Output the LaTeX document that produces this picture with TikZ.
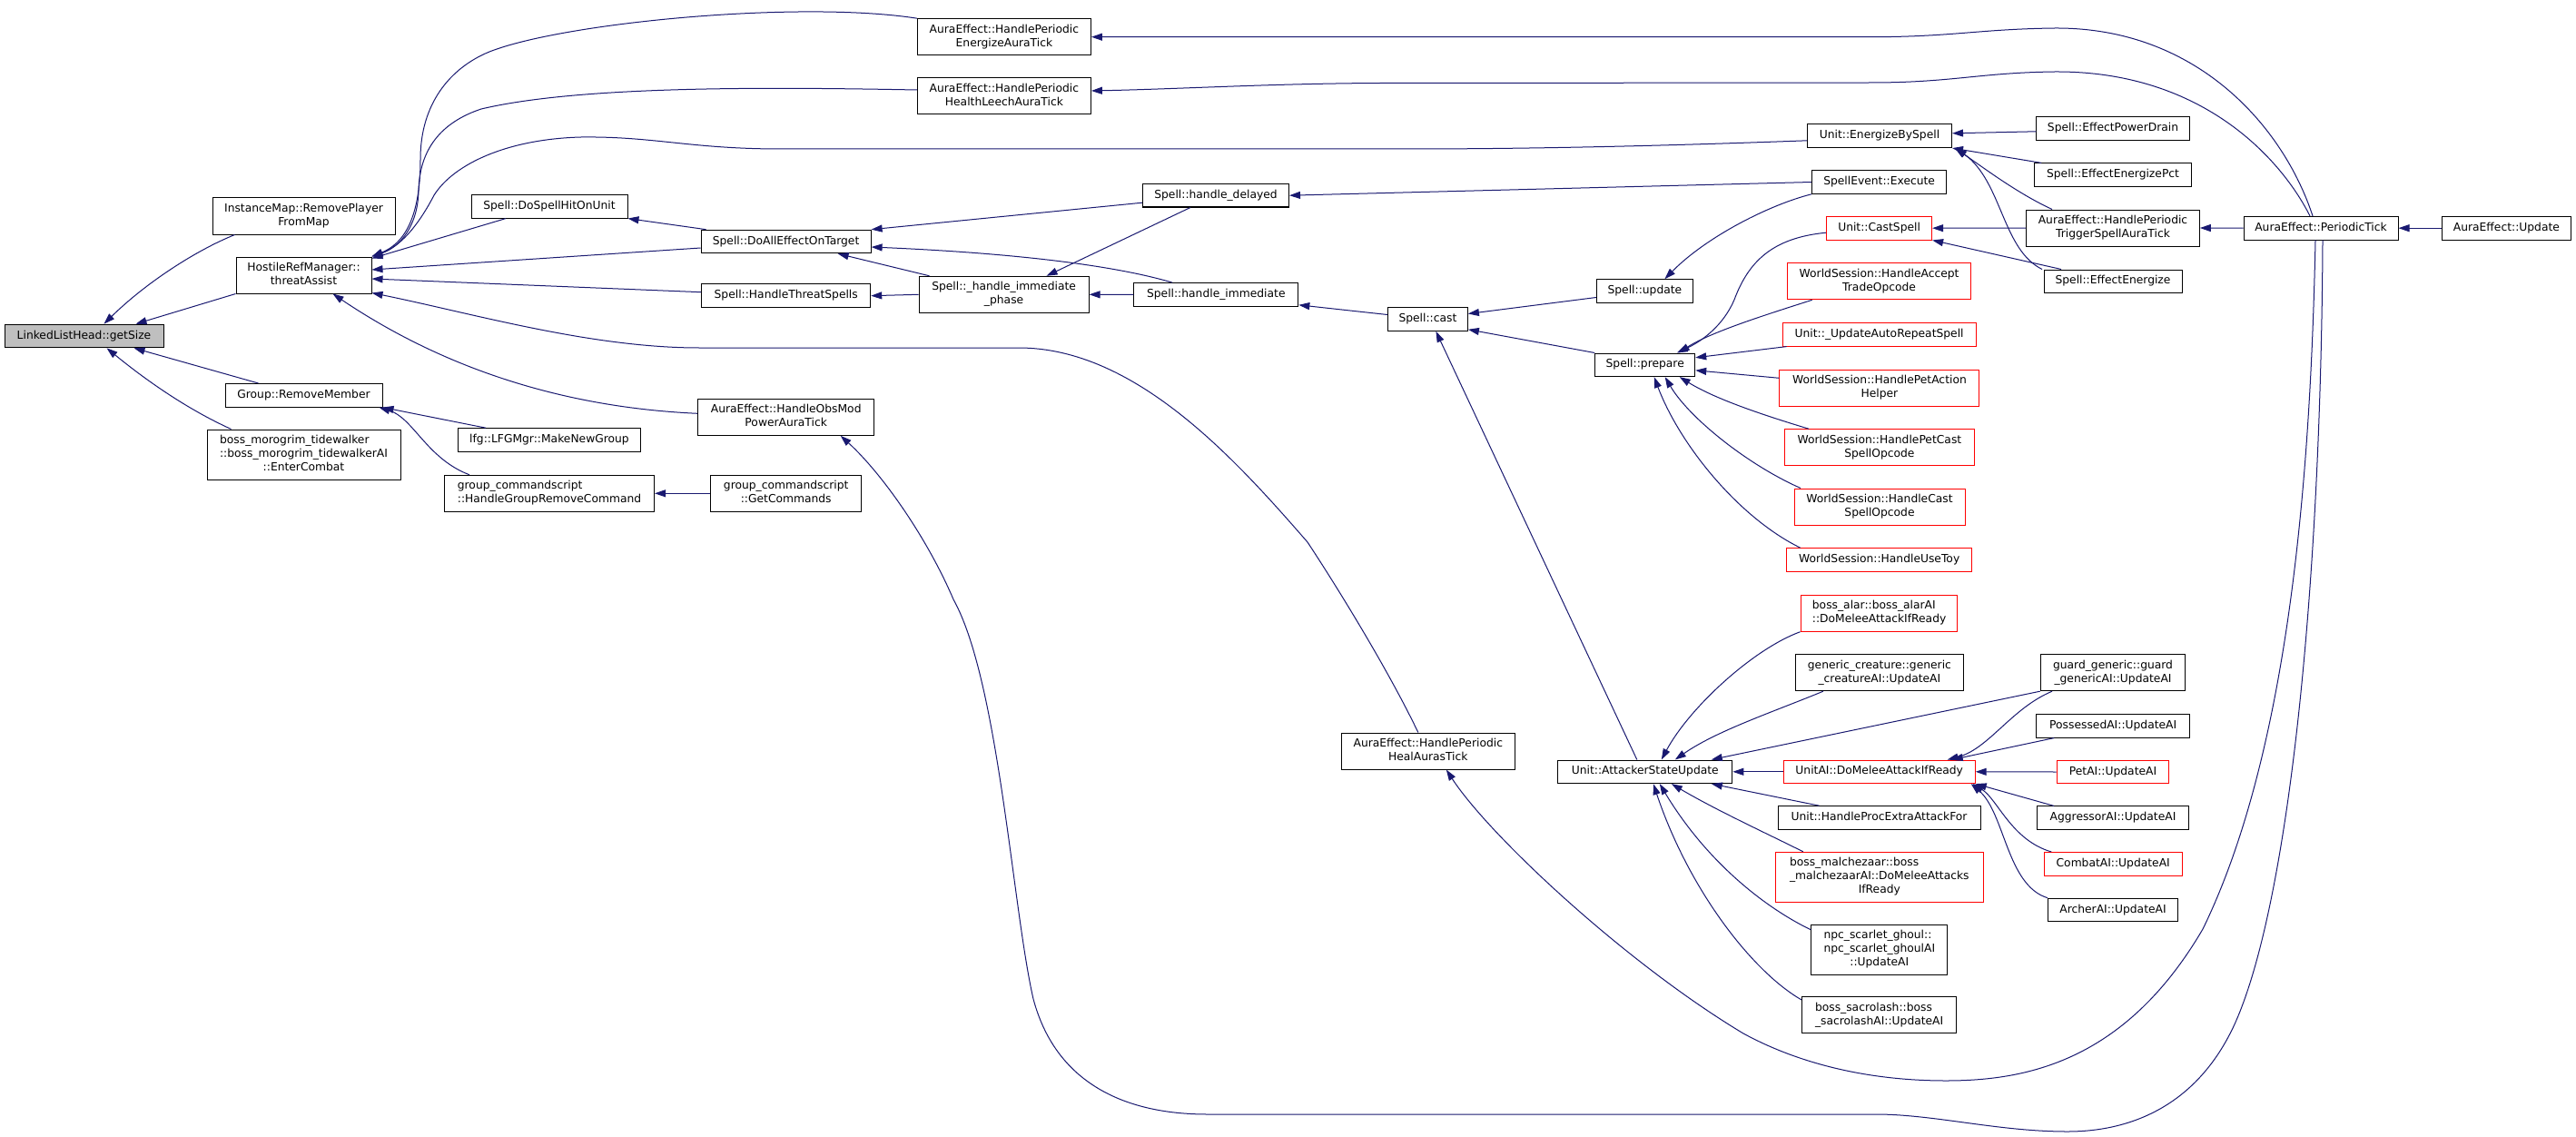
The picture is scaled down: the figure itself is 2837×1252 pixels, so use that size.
\documentclass[tikz,border=0pt]{standalone}
\usepackage{fontspec}
\newfontfamily\dvs{DejaVu Sans}
\usetikzlibrary{arrows.meta}
\definecolor{navy}{HTML}{191970}
\definecolor{grayroot}{HTML}{BFBFBF}
\newcommand{\nfont}{\dvs\fontsize{12.3}{15}\selectfont}
\newcommand{\nstrut}{\rule[-3.3pt]{0pt}{12.5pt}}
\newcommand{\twol}[2]{\begin{tabular}{@{}l@{}}#1\\\multicolumn{1}{@{}c@{}}{#2}\end{tabular}}
\newcommand{\threel}[3]{\begin{tabular}{@{}l@{}}#1\\#2\\\multicolumn{1}{@{}c@{}}{#3}\end{tabular}}
\tikzset{
  fn/.style={draw=black, line width=1pt, fill=white, inner sep=0pt, font=\nfont, text=black, execute at begin node=\nstrut},
  rn/.style={fn, draw=red},
  s1/.style={minimum height=25.6pt},
  s2/.style={minimum height=40pt},
  s3/.style={minimum height=55pt},
  arr/.style={draw=navy, line width=1pt, -{Triangle[length=12pt,width=8pt]}},
}
\begin{document}
\begin{tikzpicture}[x=1pt,y=-1pt]
\useasboundingbox (0,0) rectangle (2837,1252);
\fill[white] (0,0) rectangle (2837,1252);
% nodes
\node[fn,s1,minimum width=175pt,fill=grayroot] (gs) at (92.5,370) {LinkedListHead::getSize};
\node[fn,s2,minimum width=201pt] (im) at (334.5,238) {\twol{InstanceMap::RemovePlayer}{FromMap}};
\node[fn,s2,minimum width=149pt] (hr) at (334.5,303) {\twol{HostileRefManager::}{threatAssist}};
\node[fn,s1,minimum width=173pt] (grm) at (334.5,435.3) {Group::RemoveMember};
\node[fn,s3,minimum width=213pt] (bmt) at (334.5,500.5) {\threel{boss\_morogrim\_tidewalker}{::boss\_morogrim\_tidewalkerAI}{::EnterCombat}};
\node[fn,s1,minimum width=201pt] (lfg) at (605,484.5) {lfg::LFGMgr::MakeNewGroup};
\node[fn,s2,minimum width=231pt] (gcr) at (605,543.3) {\twol{group\_commandscript}{::HandleGroupRemoveCommand}};
\node[fn,s2,minimum width=166pt] (gcg) at (865.7,543.3) {\twol{group\_commandscript}{::GetCommands}};
\node[fn,s2,minimum width=194pt] (obs) at (865.7,459.3) {\twol{AuraEffect::HandleObsMod}{PowerAuraTick}};
\node[fn,s1,minimum width=172pt] (dsh) at (605,227.3) {Spell::DoSpellHitOnUnit};
\node[fn,s1,minimum width=187pt] (dae) at (865.6,266) {Spell::DoAllEffectOnTarget};
\node[fn,s1,minimum width=186pt] (hts) at (865.7,325.7) {Spell::HandleThreatSpells};
\node[fn,s2,minimum width=191pt] (pen) at (1105.9,40.7) {\twol{AuraEffect::HandlePeriodic}{EnergizeAuraTick}};
\node[fn,s2,minimum width=191pt] (phl) at (1105.9,106) {\twol{AuraEffect::HandlePeriodic}{HealthLeechAuraTick}};
\node[fn,s2,minimum width=187pt] (hip) at (1105.6,324.3) {\twol{Spell::\_handle\_immediate}{\_phase}};
\node[fn,s1,minimum width=161pt] (hd) at (1339,215.2) {Spell::handle\_delayed};
\node[fn,s1,minimum width=181pt] (hi) at (1339.3,324.5) {Spell::handle\_immediate};
\node[fn,s1,minimum width=88pt] (cast) at (1572.4,351.5) {Spell::cast};
\node[fn,s2,minimum width=191pt] (phh) at (1572.8,827) {\twol{AuraEffect::HandlePeriodic}{HealAurasTick}};
\node[fn,s1,minimum width=106pt] (upd) at (1811.4,320.5) {Spell::update};
\node[fn,s1,minimum width=110pt] (prep) at (1811.7,401.8) {Spell::prepare};
\node[fn,s1,minimum width=192pt] (asu) at (1811.8,849.8) {Unit::AttackerStateUpdate};
\node[fn,s1,minimum width=159pt] (ebs) at (2070,149.8) {Unit::EnergizeBySpell};
\node[fn,s1,minimum width=148pt] (exe) at (2069.6,200.5) {SpellEvent::Execute};
\node[rn,s1,minimum width=116pt] (csp) at (2069.6,251.2) {Unit::CastSpell};
\node[rn,s2,minimum width=202pt] (acc) at (2069.6,309.8) {\twol{WorldSession::HandleAccept}{TradeOpcode}};
\node[rn,s1,minimum width=213pt] (uars) at (2069.6,368.3) {Unit::\_UpdateAutoRepeatSpell};
\node[rn,s2,minimum width=220pt] (pah) at (2069.9,427.3) {\twol{WorldSession::HandlePetAction}{Helper}};
\node[rn,s2,minimum width=209pt] (pcs) at (2069.9,492.7) {\twol{WorldSession::HandlePetCast}{SpellOpcode}};
\node[rn,s2,minimum width=188pt] (hcs) at (2070,558) {\twol{WorldSession::HandleCast}{SpellOpcode}};
\node[rn,s1,minimum width=204pt] (toy) at (2069.7,616.5) {WorldSession::HandleUseToy};
\node[rn,s2,minimum width=172pt] (alar) at (2069.6,675.2) {\twol{boss\_alar::boss\_alarAI}{::DoMeleeAttackIfReady}};
\node[fn,s2,minimum width=185pt] (gcu) at (2069.9,740.7) {\twol{generic\_creature::generic}{\_creatureAI::UpdateAI}};
\node[rn,s1,minimum width=211pt] (uai) at (2069.7,849.8) {UnitAI::DoMeleeAttackIfReady};
\node[fn,s1,minimum width=223pt] (hpe) at (2069.5,900.5) {Unit::HandleProcExtraAttackFor};
\node[rn,s3,minimum width=229pt] (mal) at (2069.8,965.8) {\threel{boss\_malchezaar::boss}{\_malchezaarAI::DoMeleeAttacks}{IfReady}};
\node[fn,s3,minimum width=150pt] (npc) at (2069.8,1045.8) {\threel{npc\_scarlet\_ghoul::}{npc\_scarlet\_ghoulAI}{::UpdateAI}};
\node[fn,s2,minimum width=170pt] (sac) at (2069.6,1117.5) {\twol{boss\_sacrolash::boss}{\_sacrolashAI::UpdateAI}};
\node[fn,s1,minimum width=168.5pt] (epd) at (2327,141.8) {Spell::EffectPowerDrain};
\node[fn,s1,minimum width=172.6pt] (epc) at (2327,192.7) {Spell::EffectEnergizePct};
\node[fn,s2,minimum width=190.6pt] (tsa) at (2327,251) {\twol{AuraEffect::HandlePeriodic}{TriggerSpellAuraTick}};
\node[fn,s1,minimum width=152pt] (een) at (2327,309.8) {Spell::EffectEnergize};
\node[fn,s1,minimum width=170pt] (pt) at (2556,251.2) {AuraEffect::PeriodicTick};
\node[fn,s1,minimum width=142pt] (aeu) at (2760.4,251.2) {AuraEffect::Update};
\node[fn,s2,minimum width=159.5pt] (ggu) at (2327,740.7) {\twol{guard\_generic::guard}{\_genericAI::UpdateAI}};
\node[fn,s1,minimum width=169.5pt] (pos) at (2327.2,799.3) {PossessedAI::UpdateAI};
\node[rn,s1,minimum width=123.6pt] (pet) at (2327,850) {PetAI::UpdateAI};
\node[fn,s1,minimum width=167.4pt] (agg) at (2327,900.7) {AggressorAI::UpdateAI};
\node[rn,s1,minimum width=152pt] (cmb) at (2327.2,951.3) {CombatAI::UpdateAI};
\node[fn,s1,minimum width=143pt] (arc) at (2327,1002) {ArcherAI::UpdateAI};
% edges into getSize
\draw[arr] ([xshift=-76pt]im.south) .. controls (215,276) and (160,312) .. ([xshift=22pt]gs.north);
\draw[arr] (hr.south west) -- ([xshift=57pt]gs.north);
\draw[arr] ([xshift=-50pt]grm.north) -- ([xshift=55pt]gs.south);
\draw[arr] ([xshift=-80pt]bmt.north) .. controls (205,450) and (160,418) .. ([xshift=25pt]gs.south);
% edges into HostileRefManager
\draw[arr] (pen.north west) .. controls (880,0) and (620,25) .. (539,57) .. controls (495,75) and (463,115) .. (463,175) .. controls (463,240) and (445,268) .. (hr.north east);
\draw[arr] ([yshift=7pt]phl.west) .. controls (850,96) and (640,94) .. (530,120) .. controls (485,135) and (462,165) .. (461,210) .. controls (460,250) and (440,272) .. (hr.north east);
\draw[arr] ([yshift=-5pt]ebs.west) .. controls (1850,160) and (1700,164) .. (1550,164) -- (860,164) .. controls (760,164) and (720,150) .. (640,151) .. controls (560,153) and (500,180) .. (478,215) .. controls (465,240) and (445,270) .. (hr.north east);
\draw[arr] ([xshift=-48pt]dsh.south) -- ([yshift=-2pt]hr.north east);
\draw[arr] ([yshift=-7pt]dae.west) -- ([yshift=6pt]hr.east);
\draw[arr] ([yshift=4pt]hts.west) -- ([yshift=-4pt]hr.east);
\draw[arr] ([xshift=-11pt]phh.north) .. controls (1530,740) and (1475,650) .. (1440,597) .. controls (1360,505) and (1250,383) .. (1122,383) -- (770,383) .. controls (650,383) and (520,345) .. ([yshift=1pt]hr.south east);
\draw[arr] ([yshift=4pt]obs.west) .. controls (650,450) and (510,420) .. ([xshift=32pt]hr.south);
% group
\draw[arr] ([xshift=-70pt]lfg.north) -- (grm.south east);
\draw[arr] ([xshift=-88pt]gcr.north) .. controls (470,505) and (455,460) .. ([xshift=-4pt]grm.south east);
\draw[arr] (gcg.west) -- (gcr.east);
% spell chain
\draw[arr] ([xshift=-88pt]dae.north) -- (dsh.south east);
\draw[arr] ([yshift=-8pt]hd.west) -- (dae.north east);
\draw[arr] ([xshift=-48pt]hi.north) .. controls (1220,290) and (1100,278) .. ([yshift=-6pt]dae.east);
\draw[arr] ([xshift=-82pt]hip.north) -- ([xshift=57pt]dae.south);
\draw[arr] (hip.west) -- (hts.east);
\draw[arr] ([xshift=-28pt]hd.south) -- ([xshift=47pt]hip.north);
\draw[arr] (hi.west) -- (hip.east);
\draw[arr] (exe.west) -- (hd.east);
\draw[arr] ([yshift=5pt]cast.west) -- ([yshift=2pt]hi.south east);
\draw[arr] ([yshift=-7pt]upd.west) -- ([yshift=6pt]cast.east);
\draw[arr] (prep.north west) -- ([yshift=2pt]cast.south east);
\draw[arr] ([xshift=-9pt]asu.north) -- ([xshift=9pt]cast.south);
\draw[arr] (exe.south west) .. controls (1950,225) and (1880,260) .. ([xshift=22pt]upd.north);
% into prepare
\draw[arr] ([yshift=-5pt]csp.west) .. controls (1950,262) and (1925,290) .. (1910,330) .. controls (1895,365) and (1865,380) .. ([xshift=35pt]prep.north);
\draw[arr] ([xshift=-74pt]acc.south) .. controls (1950,345) and (1885,365) .. ([xshift=37pt]prep.north);
\draw[arr] ([xshift=5pt]uars.south west) -- ([yshift=8pt]prep.east);
\draw[arr] ([yshift=11pt]pah.west) -- ([yshift=-6pt]prep.east);
\draw[arr] ([xshift=-78pt]pcs.north) .. controls (1945,458) and (1890,440) .. ([xshift=38pt]prep.south);
\draw[arr] ([xshift=-87pt]hcs.north) .. controls (1925,512) and (1860,460) .. ([xshift=22pt]prep.south);
\draw[arr] ([xshift=-87pt]toy.north) .. controls (1915,570) and (1850,490) .. ([xshift=10pt]prep.south);
% into EnergizeBySpell / CastSpell
\draw[arr] ([yshift=-3pt]epd.west) -- ([yshift=3pt]ebs.east);
\draw[arr] ([xshift=8pt]epc.north west) -- (ebs.south east);
\draw[arr] ([xshift=-67pt]tsa.north) .. controls (2222,213) and (2185,185) .. ([xshift=3pt]ebs.south east);
\draw[arr] ([xshift=-78pt]een.north) .. controls (2205,275) and (2205,200) .. ([xshift=4pt]ebs.south east);
\draw[arr] (tsa.west) -- (csp.east);
\draw[arr] ([xshift=-57pt]een.north) -- (csp.south east);
% periodic tick
\draw[arr] (pt.west) -- (tsa.east);
\draw[arr] (aeu.west) -- (pt.east);
\draw[arr] ([xshift=-9pt]pt.north) .. controls (2515,140) and (2420,30) .. (2263,31) .. controls (2180,32) and (2150,40.7) .. (2060,40.7) -- (pen.east);
\draw[arr] ([xshift=-12pt]pt.north) .. controls (2515,180) and (2430,78) .. (2263,79) .. controls (2180,80) and (2150,91) .. (2060,91) -- (1520,91.5) .. controls (1400,92) and (1300,98) .. ([yshift=6pt]phl.east);
\draw[arr] ([xshift=-6pt]pt.south) .. controls (2545,500) and (2525,820) .. (2426,1023) .. controls (2340,1170) and (2230,1190) .. (2143,1190) .. controls (2050,1190) and (1975,1168) .. (1920,1138) .. controls (1790,1060) and (1640,920) .. ([xshift=20pt]phh.south);
\draw[arr] ([xshift=2pt]pt.south) .. controls (2556,650) and (2520,1000) .. (2460,1130) .. controls (2420,1215) and (2350,1246) .. (2277,1246) .. controls (2200,1246) and (2130,1227) .. (2066,1227) -- (1330,1227) .. controls (1235,1227) and (1162,1190) .. (1138,1100) .. controls (1115,1000) and (1100,750) .. (1050,660) .. controls (1020,590) and (970,520) .. ([xshift=60pt]obs.south);
% into AttackerStateUpdate
\draw[arr] ([xshift=-87pt]alar.south) .. controls (1930,715) and (1860,780) .. ([xshift=18pt]asu.north);
\draw[arr] ([xshift=-62pt]gcu.south) .. controls (1950,785) and (1890,805) .. ([xshift=33pt]asu.north);
\draw[arr] (ggu.south west) -- ([xshift=73pt]asu.north);
\draw[arr] (uai.west) -- (asu.east);
\draw[arr] ([xshift=-66pt]hpe.north) -- ([xshift=73pt]asu.south);
\draw[arr] ([xshift=-84pt]mal.north) .. controls (1940,915) and (1890,892) .. ([xshift=29pt]asu.south);
\draw[arr] ([yshift=-6pt]npc.north west) .. controls (1945,1000) and (1880,950) .. ([xshift=16pt]asu.south);
\draw[arr] ([yshift=-4pt]sac.north west) .. controls (1930,1070) and (1860,980) .. ([xshift=9pt]asu.south);
% into UnitAI::DoMeleeAttackIfReady
\draw[arr] ([xshift=-67pt]ggu.south) .. controls (2215,780) and (2190,825) .. ([xshift=75pt]uai.north);
\draw[arr] ([xshift=-65pt]pos.south) -- ([xshift=80pt]uai.north);
\draw[arr] (pet.west) -- (uai.east);
\draw[arr] ([xshift=-65pt]agg.north) -- (uai.south east);
\draw[arr] ([xshift=-68pt]cmb.north) .. controls (2215,925) and (2200,880) .. ([xshift=-3pt]uai.south east);
\draw[arr] ([xshift=-72pt]arc.north) .. controls (2210,975) and (2208,895) .. ([xshift=-5pt]uai.south east);
\end{tikzpicture}
\end{document}
